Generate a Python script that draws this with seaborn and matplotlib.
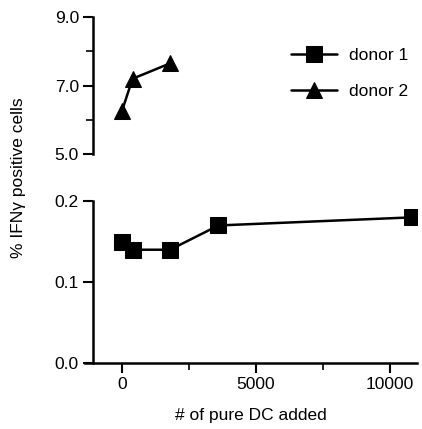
import matplotlib
matplotlib.use("Agg")
import matplotlib.pyplot as plt
from matplotlib.ticker import MultipleLocator, FixedLocator
import seaborn as sns

# donor 1 (lower panel) and donor 2 (upper panel)
donor1_x = [0, 400, 1800, 3600, 10800]
donor1_y = [0.15, 0.14, 0.14, 0.17, 0.18]
donor2_x = [0, 400, 1800]
donor2_y = [6.25, 7.2, 7.65]

sns.set_style("white")
plt.rcParams["font.family"] = ["Liberation Sans", "DejaVu Sans"]
plt.rcParams["text.color"] = "black"
plt.rcParams["axes.labelcolor"] = "black"
plt.rcParams["xtick.color"] = "black"
plt.rcParams["ytick.color"] = "black"
fs = 12.5

fig = plt.figure(figsize=(4.22, 4.29), dpi=100)
ax_top = fig.add_axes([0.201, 0.641, 0.787, 0.319])
ax_bot = fig.add_axes([0.201, 0.154, 0.787, 0.377])

sns.lineplot(x=donor1_x, y=donor1_y, ax=ax_bot, color="black", marker="s",
             markersize=11, markeredgecolor="black", linewidth=1.8,
             label="donor 1", legend=False)
sns.lineplot(x=donor2_x, y=donor2_y, ax=ax_top, color="black", marker="^",
             markersize=12, markeredgecolor="black", linewidth=1.8,
             label="donor 2", legend=False)

for ax in (ax_top, ax_bot):
    ax.set_xlim(-1380, 11000)
    for s in ("top", "right"):
        ax.spines[s].set_visible(False)
    ax.spines["left"].set_position(("data", -1080))
    ax.spines["left"].set_linewidth(1.8)
    ax.spines["left"].set_color("black")
    ax.tick_params(axis="both", which="major", length=7, width=1.5,
                   direction="out", labelsize=fs, left=True, bottom=True, pad=3)
    ax.tick_params(axis="both", which="minor", length=5, width=1.2,
                   direction="out", left=True, bottom=True)

ax_top.set_ylim(5.0, 9.0)
ax_top.yaxis.set_major_locator(FixedLocator([5.0, 7.0, 9.0]))
ax_top.yaxis.set_minor_locator(FixedLocator([6.0, 8.0]))
ax_top.yaxis.set_major_formatter(lambda v, p: f"{v:.1f}")
ax_top.spines["bottom"].set_visible(False)
ax_top.set_xticks([])
ax_top.set_xlabel("")

ax_bot.set_ylim(0.0, 0.2)
ax_bot.yaxis.set_major_locator(MultipleLocator(0.1))
ax_bot.yaxis.set_major_formatter(lambda v, p: f"{v:.1f}")
ax_bot.xaxis.set_major_locator(MultipleLocator(5000))
ax_bot.xaxis.set_minor_locator(MultipleLocator(2500))
ax_bot.spines["bottom"].set_linewidth(1.8)
ax_bot.spines["bottom"].set_color("black")
ax_bot.set_xlabel("# of pure DC added", fontsize=fs, labelpad=12)
ax_bot.set_ylabel("")

fig.text(0.045, 0.585, "% IFNγ positive cells", rotation=90, ha="center",
         va="center", fontsize=fs)

handles = ax_bot.get_lines()[:1] + ax_top.get_lines()[:1]
ax_top.legend(handles, ["donor 1", "donor 2"], loc="upper right",
              frameon=False, fontsize=fs, bbox_to_anchor=(1.02, 0.89),
              handlelength=2.6, labelspacing=1.2, handletextpad=0.7)

fig.savefig("out.png", dpi=100)
